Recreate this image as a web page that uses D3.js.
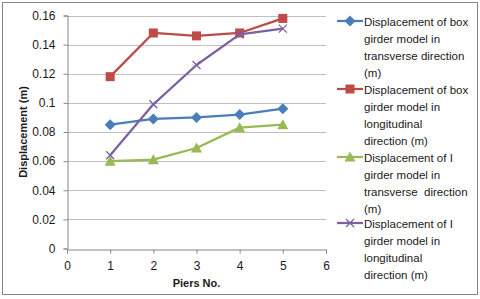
<!DOCTYPE html>
<html>
<head>
<meta charset="utf-8">
<script src="https://cdn.jsdelivr.net/npm/d3@7"></script>
<style>
  body { margin: 0; background: #fff; }
  text { font-family: "Liberation Sans", Arial, sans-serif; fill: #1a1a1a; }
</style>
</head>
<body>
<div id="chart"></div>
<script>
// Data
var piers = [1, 2, 3, 4, 5];
var boxTransverse = [0.085, 0.089, 0.090, 0.092, 0.096];
var boxLongitudinal = [0.118, 0.148, 0.146, 0.148, 0.158];
var iTransverse = [0.060, 0.061, 0.069, 0.083, 0.085];
var iLongitudinal = [0.064, 0.099, 0.126, 0.147, 0.151];
var xTicks = [0, 1, 2, 3, 4, 5, 6];
var yTicks = [0, 0.02, 0.04, 0.06, 0.08, 0.1, 0.12, 0.14, 0.16];

var series = [
    { name: ["Displacement of box", "girder model in", "transverse direction", "(m)"], values: boxTransverse, color: "#4a7ebb", marker: "diamond" },
    { name: ["Displacement of box", "girder model in", "longitudinal", "direction (m)"], values: boxLongitudinal, color: "#be4b48", marker: "square" },
    { name: ["Displacement of I", "girder model in", "transverse  direction", "(m)"], values: iTransverse, color: "#98b954", marker: "triangle" },
    { name: ["Displacement of I", "girder model in", "longitudinal", "direction (m)"], values: iLongitudinal, color: "#7d60a0", marker: "cross" }
];

var W = 480, H = 299;
var svg = d3.select("#chart").append("svg")
    .attr("width", W)
    .attr("height", H);

// Outer frame
svg.append("rect")
    .attr("x", 2.5).attr("y", 2.5)
    .attr("width", 475).attr("height", 292)
    .attr("fill", "#fff")
    .attr("stroke", "#868686");

var x = d3.scaleLinear().domain([0, 6]).range([67, 326]);
var y = d3.scaleLinear().domain([0, 0.16]).range([248.5, 15.5]);

// Gridlines
svg.append("g")
    .selectAll("line")
    .data(yTicks.slice(1))
    .enter().append("line")
    .attr("x1", x(0)).attr("x2", x(6))
    .attr("y1", function(d) { return Math.round(y(d)) + 0.5; })
    .attr("y2", function(d) { return Math.round(y(d)) + 0.5; })
    .attr("stroke", "#bfbfbf");

// Axes
var yAxis = svg.append("g")
    .attr("transform", "translate(" + (x(0) + 0.5) + ",0)")
    .call(d3.axisLeft(y).tickValues(yTicks).tickSize(4).tickPadding(8)
        .tickFormat(function(d) { return d3.format("")(+d.toFixed(2)); }));
var xAxis = svg.append("g")
    .attr("transform", "translate(0," + (Math.round(y(0)) + 0.5) + ")")
    .call(d3.axisBottom(x).tickValues(xTicks).tickSize(4).tickPadding(8).tickFormat(d3.format("d")));

[xAxis, yAxis].forEach(function(a) {
    a.select(".domain").attr("stroke", "#868686");
    a.selectAll(".tick line").attr("stroke", "#868686");
    a.selectAll(".tick text")
        .style("font-family", "'Liberation Sans', Arial, sans-serif")
        .style("font-size", "12px")
        .attr("fill", "#1a1a1a");
});

// Axis titles
svg.append("text")
    .attr("transform", "translate(27," + ((y(0) + y(0.16)) / 2) + ") rotate(-90)")
    .attr("text-anchor", "middle")
    .style("font-size", "11px")
    .style("font-weight", "bold")
    .text("Displacement (m)");

svg.append("text")
    .attr("x", x(3))
    .attr("y", 287)
    .attr("text-anchor", "middle")
    .style("font-size", "11px")
    .style("font-weight", "bold")
    .text("Piers No.");

// Marker shapes
function drawMarker(g, type, color) {
    if (type == "diamond") {
        g.append("path").attr("d", "M0,-5.5L5.5,0L0,5.5L-5.5,0Z").attr("fill", color);
    } else if (type == "square") {
        g.append("rect").attr("x", -4.5).attr("y", -4.5).attr("width", 9).attr("height", 9).attr("fill", color);
    } else if (type == "triangle") {
        g.append("path").attr("d", "M0,-5.5L5.5,4.5L-5.5,4.5Z").attr("fill", color);
    } else {
        g.append("path").attr("d", "M-4,-4L4,4M-4,4L4,-4")
            .attr("stroke", color).attr("stroke-width", 1.3).attr("fill", "none");
    }
}

var line = d3.line()
    .x(function(d, i) { return x(piers[i]); })
    .y(function(d) { return y(d); });

series.forEach(function(s) {
    svg.append("path")
        .datum(s.values)
        .attr("d", line)
        .attr("fill", "none")
        .attr("stroke", s.color)
        .attr("stroke-width", 2.25)
        .attr("stroke-linejoin", "round");

    svg.append("g").selectAll("g")
        .data(s.values)
        .enter().append("g")
        .attr("transform", function(d, i) { return "translate(" + x(piers[i]) + "," + y(d) + ")"; })
        .each(function() { drawMarker(d3.select(this), s.marker, s.color); });
});

// Legend
var legendTop = [21, 89, 157, 223];
series.forEach(function(s, k) {
    var g = svg.append("g").attr("transform", "translate(0," + legendTop[k] + ")");
    g.append("line")
        .attr("x1", 337).attr("x2", 363)
        .attr("stroke", s.color).attr("stroke-width", 2.25);
    drawMarker(g.append("g").attr("transform", "translate(350,0)"), s.marker, s.color);
    s.name.forEach(function(t, j) {
        g.append("text")
            .attr("x", 364)
            .attr("y", j * 17 + 4.5)
            .style("font-size", "11.5px")
            .style("white-space", "pre")
            .text(t);
    });
});
</script>
</body>
</html>
